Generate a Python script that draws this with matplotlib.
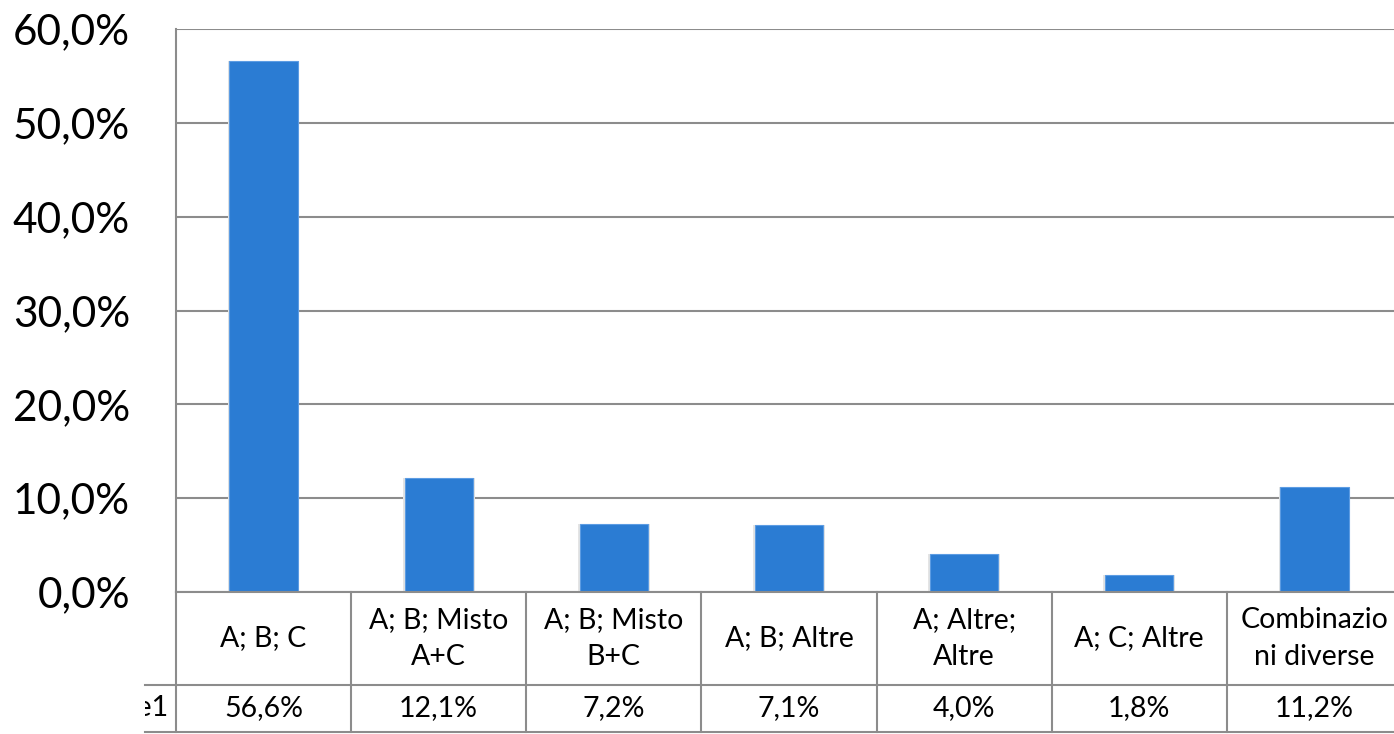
import matplotlib.pyplot as plt
from matplotlib.transforms import blended_transform_factory, Bbox

categories = ["A; B; C", "A; B; Misto\nA+C", "A; B; Misto\nB+C", "A; B; Altre",
              "A; Altre;\nAltre", "A; C; Altre", "Combinazio\nni diverse"]
values = [56.6, 12.1, 7.2, 7.1, 4.0, 1.8, 11.2]
value_labels = ["56,6%", "12,1%", "7,2%", "7,1%", "4,0%", "1,8%", "11,2%"]
series_name = "Serie1"
yticks = [0, 10, 20, 30, 40, 50, 60]

W, H = 1394, 734
plt.rcParams['font.family'] = ['Lato', 'DejaVu Sans']

fig = plt.figure(figsize=(W / 100, H / 100), dpi=100)
# plot area in pixels: left 176, top 29, bottom 592, right ~1402 (cut off)
ax = fig.add_axes([176 / W, 1 - 592 / H, 1226 / W, (592 - 29) / H])

grid_col = '#8c8c8c'
n = len(categories)
x = list(range(n))

# faint shadow, then the bars
ax.bar(x, values, width=0.41, color='#e4e4e4', zorder=2)
ax.bar(x, values, width=0.39, color='#2b7cd3', edgecolor='#5c9ce3', linewidth=0.8, zorder=3)

ax.set_xlim(-0.5, n - 0.5)
ax.set_ylim(0, 60)
ax.set_yticks(yticks)
ax.set_yticklabels([f"{t},0%" for t in yticks], fontsize=30.5)
ax.tick_params(axis='y', length=0, pad=33)
ax.set_xticks([])
ax.yaxis.grid(True, color=grid_col, linewidth=1.5, zorder=1)
for s in ['top', 'right', 'bottom']:
    ax.spines[s].set_visible(False)
ax.spines['left'].set_color(grid_col)
ax.spines['left'].set_linewidth(1.5)

# data table below the axis
tr = blended_transform_factory(ax.transData, fig.transFigure)
def fy(py):
    return 1 - py / H

row1_top, row1_bot, row2_bot = 592, 685, 732
lw = 1.5
# vertical cell borders
for i in range(n + 1):
    ax.plot([i - 0.5, i - 0.5], [fy(row1_top), fy(row2_bot)], transform=tr,
            color=grid_col, linewidth=lw, clip_on=False, zorder=4)
# horizontal borders
ax.plot([-0.5, n - 0.5], [fy(row1_top), fy(row1_top)], transform=tr,
        color=grid_col, linewidth=lw, clip_on=False, zorder=4)
for py in [row1_bot, row2_bot]:
    fig.add_artist(plt.Line2D([145 / W, 1.0], [fy(py), fy(py)], color=grid_col, linewidth=lw))

for i, (c, v) in enumerate(zip(categories, value_labels)):
    ax.text(i, fy((row1_top + row1_bot) / 2), c, transform=tr, ha='center', va='center',
            fontsize=20.5, linespacing=1.55, clip_on=False)
    ax.text(i, fy((row1_bot + row2_bot) / 2), v, transform=tr, ha='center', va='center',
            fontsize=20.5, clip_on=False)

# row header is cut off at the left edge of the picture
lab = fig.text(168 / W, fy((row1_bot + row2_bot) / 2), series_name, ha='right', va='center', fontsize=20.5)
lab.set_clip_box(Bbox.from_extents(145, 0, W, H))
lab.set_clip_on(True)

fig.savefig('out.png', dpi=100, facecolor='white')
